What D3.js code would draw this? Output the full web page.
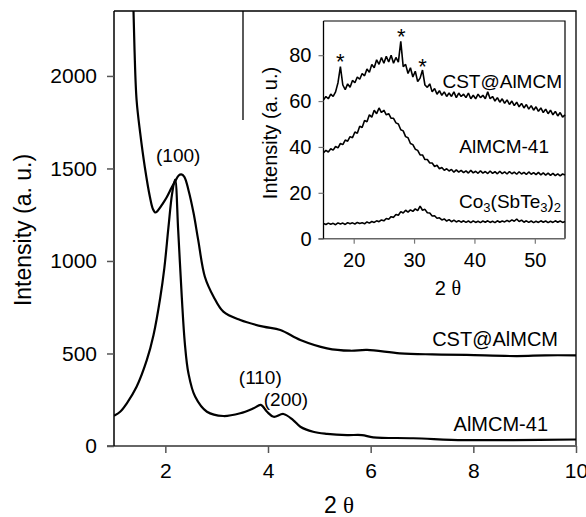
<!DOCTYPE html>
<html>
<head>
<meta charset="utf-8">
<script src="https://cdn.jsdelivr.net/npm/d3@7"></script>
<style>
  body { margin: 0; background: #fff; }
  text { font-family: "Liberation Sans", Arial, sans-serif; fill: #000; }
</style>
</head>
<body>
<svg id="chart" width="586" height="517"></svg>
<script>
// main pattern, low angle
const cstMain = [[1.36,2500],[1.38,2350],[1.40,2140],[1.44,1870],[1.51,1692],[1.60,1508],[1.70,1346],[1.76,1280],
    [1.81,1262],[1.87,1278],[1.95,1310],[2.03,1346],[2.12,1395],[2.19,1430],[2.26,1462],[2.31,1468],[2.37,1455],
    [2.45,1384],[2.55,1259],[2.64,1114],[2.77,915],[2.94,807],[3.13,726],[3.46,681],[3.91,645],[4.24,627],[4.63,573],
    [5.15,528],[5.60,515],[5.93,519],[6.57,501],[7.2,495],[7.87,492],[8.85,486],[9.4,490],[10,490]];
const mcmMain = [[1.0,164],[1.12,185],[1.25,231],[1.44,320],[1.64,465],[1.77,600],[1.90,800],[1.98,960],[2.06,1180],
    [2.13,1360],[2.19,1440],[2.25,1168],[2.32,807],[2.38,555],[2.45,393],[2.58,267],[2.81,185],[3.13,162],[3.46,177],
    [3.72,204],[3.86,222],[3.98,185],[4.11,158],[4.30,173],[4.49,140],[4.63,104],[4.88,77],[5.15,66],[5.54,59],
    [5.83,59],[6.05,47],[6.83,42],[7.81,32],[8.78,32],[10,35]];
const mainXTicks = [2,4,6,8,10];
const mainYTicks = [0,500,1000,1500,2000];
const peakLabels = [{t:'(100)',x:2.25,y:1535},{t:'(110)',x:3.85,y:335},{t:'(200)',x:4.35,y:215}];

// inset, wide angle (sampled every 0.4 deg from 15 to 55)
const insetStep = 0.4;
const cstInset = [60.5,62,61,63,62,64,68,75,67,65,67.5,66,69,68,70.5,69.5,72,71,74,72.5,76,74.5,78,76,79,76.5,79.5,77,80,76.5,
    79,77,86,75,76,72,74.5,70.5,73,68.5,70,73.5,67,66,67.5,64,65.5,63,64.5,62.5,64,62,63.5,62,64,61.5,63.5,62,63,61.5,
    63.5,61,62.5,61,63,61.5,62.5,61,64,61,62,60,61.5,59.5,61,59,60.5,58.5,60,58,59.5,57.5,59,57,58.5,56.5,58,56,57.5,55.5,
    57,55,56.5,54.5,56,54,55.5,53.5,55,53,54];
const mcmInset = [37.5,38.5,37.8,39.2,38.6,40.2,39.6,41.5,41,43,42.5,44.5,44,46.5,46,49,48.5,51.5,51,54,53,56,54.5,57,55,56,
    54,54.5,52.5,52.5,50.5,50,47.5,47,44.5,44,41.5,41,39,38.5,36.5,36.5,34.5,34.5,33,33,31.5,32,30.5,31,29.8,30.5,29.5,30.2,
    29,30,29,29.8,28.8,29.6,28.6,29.8,28.7,29.4,28.5,29.6,28.6,29.3,28.4,29.5,28.5,29.2,28.3,29.4,28.4,29.1,28.2,29.3,28.3,
    29,28.1,29.2,28.2,28.9,28,29.1,28.1,28.8,27.9,28.9,27.8,28.7,27.7,28.6,27.6,28.5,27.5,28.3,27.4,28.2,27.8];
const cstOnlyInset = [6.6,6.2,6.8,6.3,6.7,6.1,6.9,6.4,6.8,6.2,7.0,6.5,6.9,6.4,7.1,6.6,7.0,6.5,7.3,6.8,7.5,7.1,7.8,7.4,8.2,7.8,
    8.8,8.5,9.6,9.3,10.6,10.2,11.8,11.2,12.4,11.6,12.6,11.9,13.0,12.2,14.2,12.4,12.8,11.3,11.2,9.9,10.0,8.9,9.1,8.2,8.6,7.7,
    8.3,7.4,8.1,7.3,7.9,7.2,7.8,7.1,7.7,7.0,7.8,7.1,7.6,7.0,7.7,7.2,7.8,7.1,7.6,7.0,7.8,7.2,7.7,7.3,8.0,7.4,8.2,7.6,8.6,7.5,
    8.1,7.2,7.8,7.1,7.7,7.0,7.6,7.1,7.8,7.2,7.7,7.0,7.6,7.1,7.8,7.2,7.7,7.1,7.5];
const insetXTicks = [20,30,40,50];
const insetYTicks = [0,20,40,60,80];
const stars = [[17.8,80],[27.9,91],[31.4,78]];

const svg = d3.select('#chart');
svg.append('rect').attr('width',586).attr('height',517).attr('fill','#fff');

const M = {left:114, top:11, right:576, bottom:446};
const x = d3.scaleLinear().domain([1,10]).range([M.left, M.right]);
const y = d3.scaleLinear().domain([0,2351]).range([M.bottom, M.top]);

svg.append('clipPath').attr('id','mainClip')
    .append('rect').attr('x',M.left).attr('y',M.top).attr('width',M.right-M.left).attr('height',M.bottom-M.top);

const line = d3.line().x(d=>x(d[0])).y(d=>y(d[1])).curve(d3.curveCatmullRom.alpha(0.5));
svg.selectAll('path.main').data([cstMain, mcmMain]).join('path')
    .attr('class','main')
    .attr('clip-path','url(#mainClip)')
    .attr('d', line)
    .attr('fill','none').attr('stroke','#000').attr('stroke-width',2.2);

// frame top/right
svg.append('path').attr('d',`M${M.left},${M.top}H${M.right}V${M.bottom}`)
    .attr('fill','none').attr('stroke','#000').attr('stroke-width',1.3);

const fmt = d3.format('d');
const xAxis = svg.append('g').attr('transform',`translate(0,${M.bottom})`)
    .call(d3.axisBottom(x).tickValues(mainXTicks).tickFormat(fmt).tickSize(7).tickSizeOuter(0).tickPadding(10));
xAxis.select('.domain').attr('d',`M${M.left-7},0H${M.right}`).attr('stroke','#666').attr('stroke-width',2);
xAxis.selectAll('.tick line').attr('stroke','#555').attr('stroke-width',1.5);
xAxis.selectAll('.tick text').attr('font-size',21).attr('font-family',null);

const yAxis = svg.append('g').attr('transform',`translate(${M.left},0)`)
    .call(d3.axisLeft(y).tickValues(mainYTicks).tickFormat(fmt).tickSize(7).tickSizeOuter(0).tickPadding(10));
yAxis.select('.domain').attr('d',`M0,${M.top}V${M.bottom}`).attr('stroke','#000').attr('stroke-width',1.5);
yAxis.selectAll('.tick line').attr('stroke','#555').attr('stroke-width',1.5);
yAxis.selectAll('.tick text').attr('font-size',21).attr('font-family',null);

svg.append('text').attr('transform','translate(31,230) rotate(-90)')
    .attr('text-anchor','middle').attr('font-size',23).text('Intensity (a. u.)');
const xt = svg.append('text').attr('x',339).attr('y',513).attr('text-anchor','middle').attr('font-size',23);
xt.append('tspan').text('2 ');
xt.append('tspan').attr('font-family','Liberation Serif').text('θ');

svg.selectAll('text.peak').data(peakLabels).join('text').attr('class','peak')
    .attr('x',d=>x(d.x)).attr('y',d=>y(d.y)).attr('text-anchor','middle').attr('font-size',19)
    .text(d=>d.t);
svg.append('text').attr('x',558).attr('y',346).attr('text-anchor','end').attr('font-size',20).text('CST@AlMCM');
svg.append('text').attr('x',548).attr('y',431).attr('text-anchor','end').attr('font-size',20).text('AlMCM-41');

// ---- inset
svg.append('line').attr('x1',243).attr('x2',243).attr('y1',M.top).attr('y2',120).attr('stroke','#000').attr('stroke-width',1.3);

const I = {left:323.5, top:21, right:565, bottom:238.7};
const ix = d3.scaleLinear().domain([15,55]).range([I.left, I.right]);
const iy = d3.scaleLinear().domain([0,94.9]).range([I.bottom, I.top]);
const iline = d3.line().x((d,i)=>ix(15+i*insetStep)).y(d=>iy(d));

svg.selectAll('path.inset').data([cstInset, mcmInset, cstOnlyInset]).join('path')
    .attr('class','inset')
    .attr('d', iline)
    .attr('fill','none').attr('stroke','#000').attr('stroke-width',1.6).attr('stroke-linejoin','bevel');

svg.append('path').attr('d',`M${I.left},${I.top}H${I.right}V${I.bottom}`)
    .attr('fill','none').attr('stroke','#000').attr('stroke-width',1.2);

const ixAxis = svg.append('g').attr('transform',`translate(0,${I.bottom})`)
    .call(d3.axisBottom(ix).tickValues(insetXTicks).tickSize(5).tickSizeOuter(0).tickPadding(9));
ixAxis.select('.domain').attr('d',`M${I.left-5},0H${I.right}`).attr('stroke','#666').attr('stroke-width',1.6);
ixAxis.selectAll('.tick line').attr('stroke','#777').attr('stroke-width',1.2);
ixAxis.selectAll('.tick text').attr('font-size',20).attr('font-family',null);

const iyAxis = svg.append('g').attr('transform',`translate(${I.left},0)`)
    .call(d3.axisLeft(iy).tickValues(insetYTicks).tickSize(5).tickSizeOuter(0).tickPadding(7));
iyAxis.select('.domain').attr('d',`M0,${I.top}V${I.bottom}`).attr('stroke','#000').attr('stroke-width',1.3);
iyAxis.selectAll('.tick line').attr('stroke','#777').attr('stroke-width',1.2);
iyAxis.selectAll('.tick text').attr('font-size',20).attr('font-family',null);

svg.append('text').attr('transform','translate(277,133) rotate(-90)')
    .attr('text-anchor','middle').attr('font-size',20).text('Intensity (a. u.)');
const ixt = svg.append('text').attr('x',448).attr('y',295).attr('text-anchor','middle').attr('font-size',20);
ixt.append('tspan').text('2 ');
ixt.append('tspan').attr('font-family','Liberation Serif').text('θ');

svg.selectAll('text.star').data(stars).join('text').attr('class','star')
    .attr('x',d=>ix(d[0])).attr('y',d=>iy(d[1]) + 14).attr('text-anchor','middle').attr('font-size',22)
    .text('*');

svg.append('text').attr('x',562).attr('y',88).attr('text-anchor','end').attr('font-size',19).text('CST@AlMCM');
svg.append('text').attr('x',549).attr('y',153).attr('text-anchor','end').attr('font-size',19).text('AlMCM-41');
const co = svg.append('text').attr('x',561).attr('y',208).attr('text-anchor','end').attr('font-size',19);
co.append('tspan').text('Co');
co.append('tspan').attr('font-size',13).attr('dy',4).text('3');
co.append('tspan').attr('dy',-4).text('(SbTe');
co.append('tspan').attr('font-size',13).attr('dy',4).text('3');
co.append('tspan').attr('dy',-4).text(')');
co.append('tspan').attr('font-size',13).attr('dy',4).text('2');
</script>
</body>
</html>
